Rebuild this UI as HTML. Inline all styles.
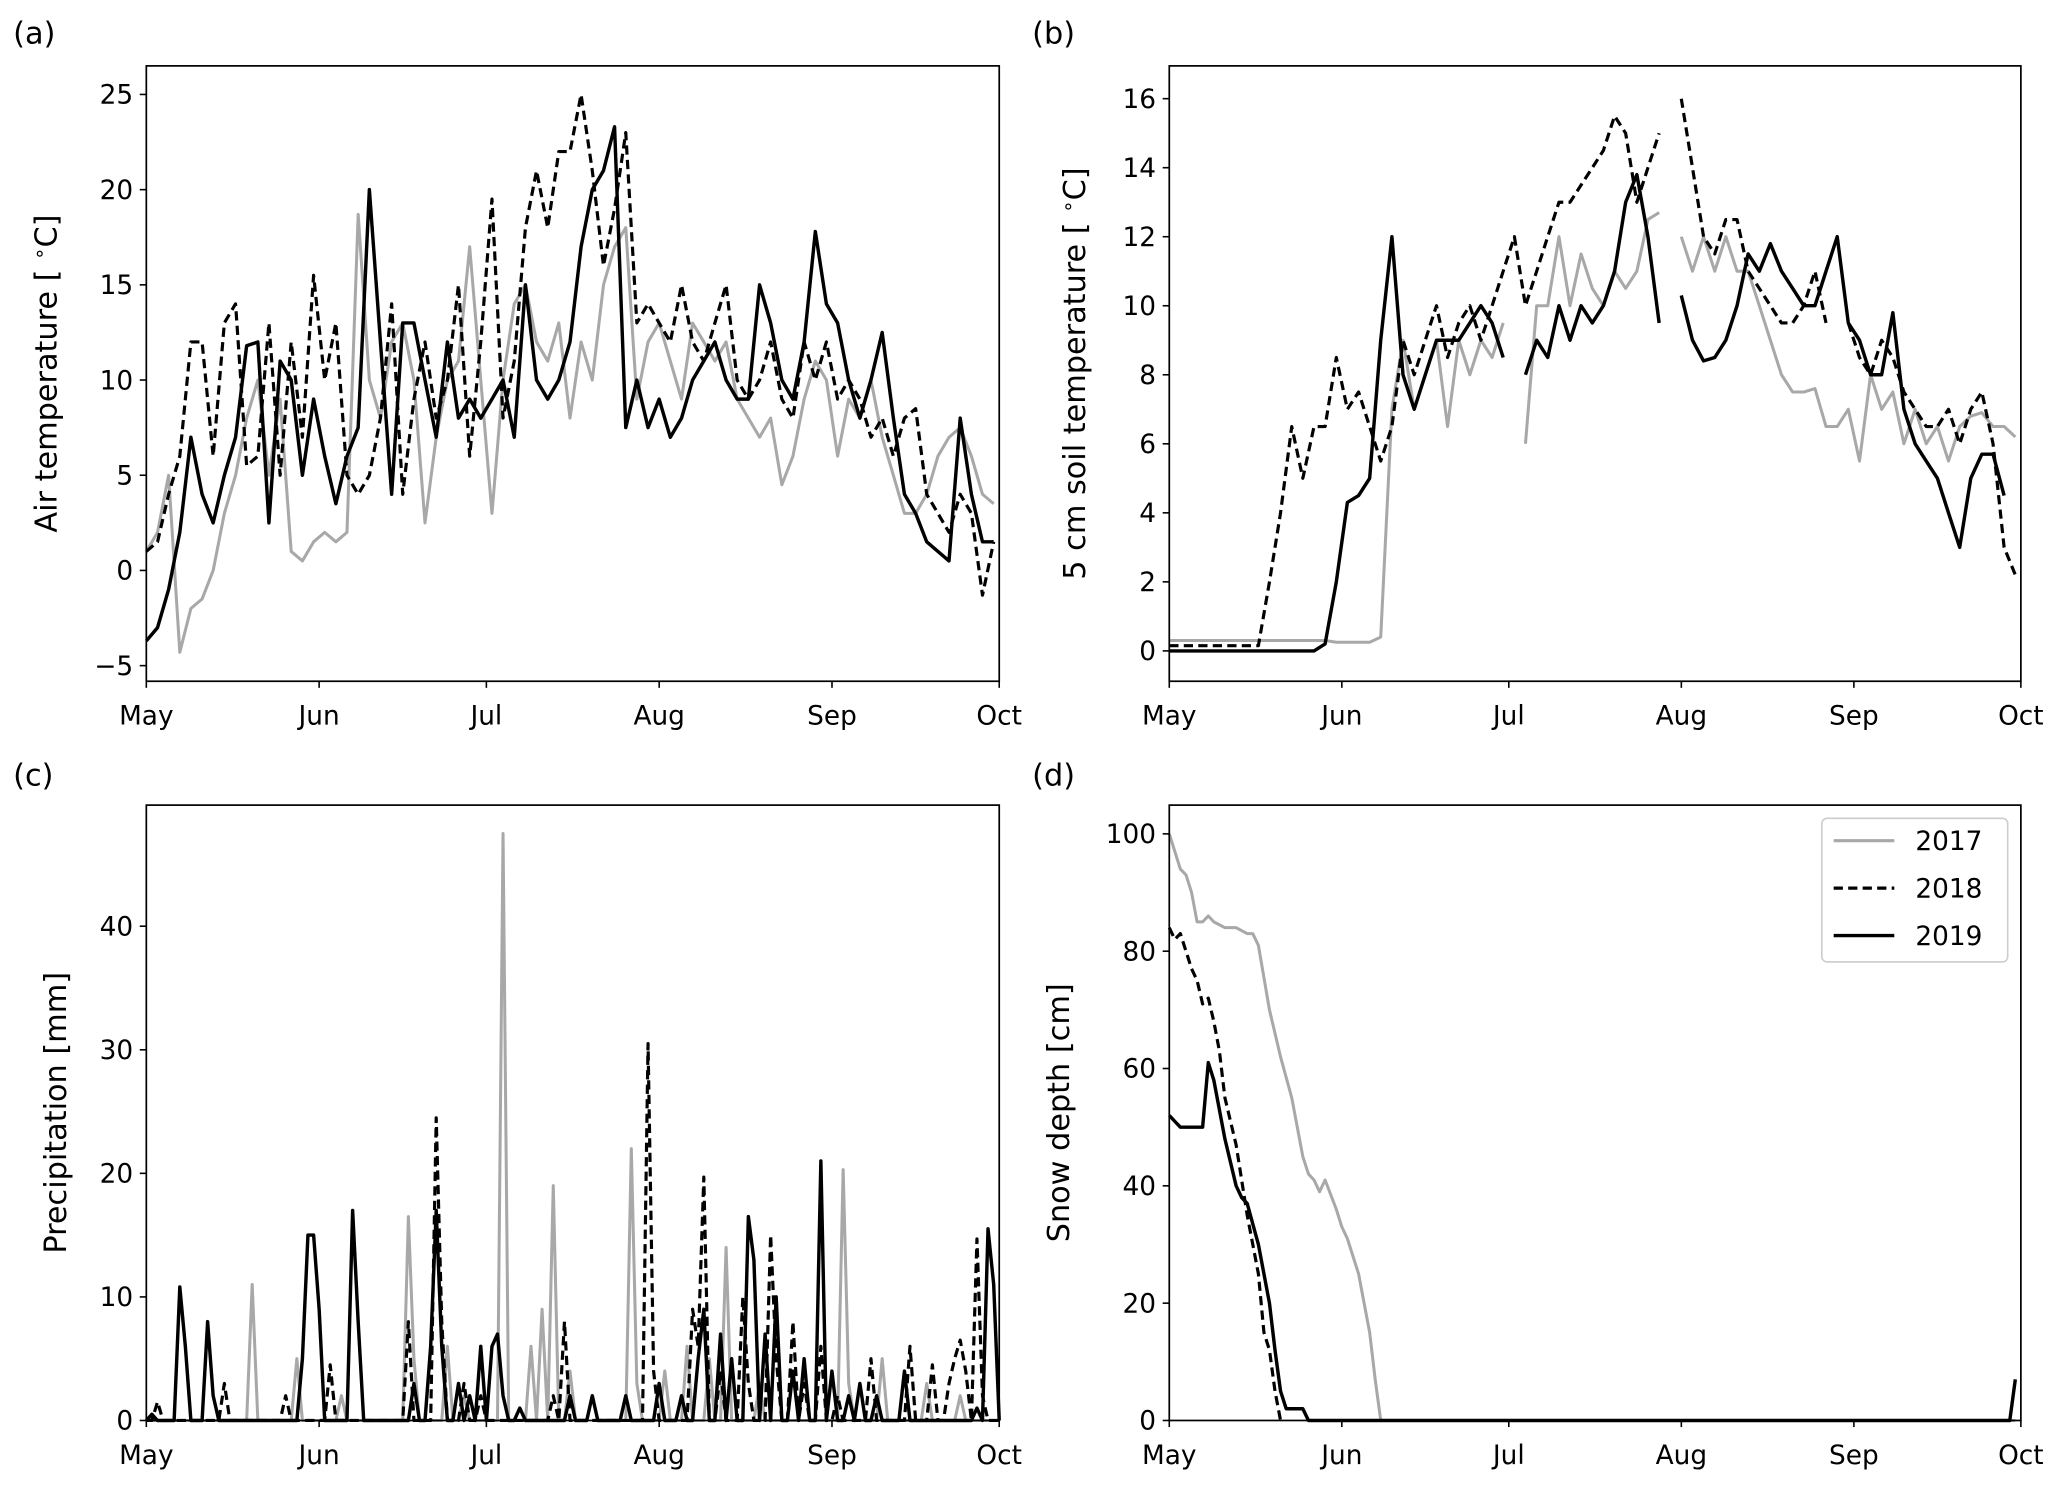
<!DOCTYPE html>
<html><head><meta charset="utf-8">
<style>
html,body{margin:0;padding:0;background:#fff;}
svg{display:block;font-family:"DejaVu Sans","Liberation Sans",sans-serif;}
</style></head>
<body>
<svg id="fig" width="2067" height="1489" viewBox="0 0 1568 1130" preserveAspectRatio="none" xmlns="http://www.w3.org/2000/svg"></svg>
<script>
// ---------- data (step-2-day series start May 1) ----------
const monthLabels = ["May","Jun","Jul","Aug","Sep","Oct"];
const monthDays = [0,31,61,92,123,153];
const years = ["2017","2018","2019"];

const air2017 = [1,2,5,-4.3,-2,-1.5,0,3,5,8,10,5,9,1,0.5,1.5,2,1.5,2,18.7,10,8,12,13,10,2.5,7,10,11,17,10,3,10,14,15,12,11,13,8,12,10,15,17,18,9,12,13,11,9,13,12,11,12,9,8,7,8,4.5,6,9,11,10,6,9,8,10,7,5,3,3,4,6,7,7.5,6,4,3.5];
const air2018 = [1,1.5,4,6,12,12,6,13,14,5.5,6,13,5,12,7,15.5,10,13,5,4,5,8,14,4,9,12,8,10,15,6,12,19.5,8,11,18,21,18,22,22,25,21,16,19,23,13,14,13,12,15,12,11,13,15,10,9,10,12,9,8,12,10,12,9,10,9,7,8,6,8,8.5,4,3,2,4,3,-1.3,1.5];
const air2019 = [-3.7,-3,-1,2,7,4,2.5,5,7,11.8,12,2.5,11,10,5,9,6,3.5,6,7.5,20,12,4,13,13,10,7,12,8,9,8,9,10,7,15,10,9,10,12,17,20,21,23.3,7.5,10,7.5,9,7,8,10,11,12,10,9,9,15,13,10,9,12,17.8,14,13,10,8,10,12.5,8,4,3,1.5,1,0.5,8,4,1.5,1.5];

const soil2017 = [0.3,0.3,0.3,0.3,0.3,0.3,0.3,0.3,0.3,0.3,0.3,0.3,0.3,0.3,0.3,0.25,0.25,0.25,0.25,0.4,7,9,7,8,9,6.5,9,8,9,8.5,9.5,null,6,10,10,12,10,11.5,10.5,10,11,10.5,11,12.5,12.7,null,12,11,12,11,12,11,11,10,9,8,7.5,7.5,7.6,6.5,6.5,7,5.5,8,7,7.5,6,7,6,6.5,5.5,6.5,6.8,6.9,6.5,6.5,6.2];
const soil2018 = [0.15,0.15,0.15,0.15,0.15,0.15,0.15,0.15,0.15,2,4,6.5,5,6.5,6.5,8.5,7,7.5,6.5,5.5,6.5,9,8,9,10,8.5,9.5,10,9,10,11,12,10,11,12,13,13,13.5,14,14.5,15.5,15,13,14,15,null,16,14,12,11.5,12.5,12.5,11,10.5,10,9.5,9.5,10,11,9.5,null,9.5,8.5,8,9,8.5,7.5,7,6.5,6.5,7,6,7,7.5,6,3,2.2];
const soil2019 = [0,0,0,0,0,0,0,0,0,0,0,0,0,0,0.2,2,4.3,4.5,5,9,12,8,7,8,9,9,9,9.5,10,9.5,8.5,null,8,9,8.5,10,9,10,9.5,10,11,13,13.8,12,9.5,null,10.3,9,8.4,8.5,9,10,11.5,11,11.8,11,10.5,10,10,11,12,9.5,9,8,8,9.8,7,6,5.5,5,4,3,5,5.7,5.7,4.5];

const precDays2017 = [19,27,35,47,48,54,57,64,69,71,73,76,80,87,88,93,97,101,104,110,125,126,132,140,146];
const precVals2017 = [11,5,2,16.5,5,6,2,47.5,6,9,19,4,2,22,3,4,6,5,14,3,20.3,3,5,3,2];
const precDays2018 = [2,14,25,33,47,52,53,57,60,73,75,90,91,98,99,100,103,107,108,112,113,116,118,121,124,130,137,141,144,145,146,147,149,150];
const precVals2018 = [1.5,3,2,4.5,8,24.5,8,3,2,2,8,30.5,4,9,6,19.7,4,10,3,15,5,8,3,6,2,5,6,4.5,3,5,6.5,4,14.7,2];
const precDays2019 = [1,6,7,11,12,28,29,30,31,37,38,48,51,52,53,56,58,60,62,63,64,67,76,80,86,92,96,99,100,103,105,108,109,111,113,116,118,121,123,126,128,131,136,149,151,152];
const precVals2019 = [0.5,10.8,6,8,2,5,15,15,9,17,8,3,6,17,6,3,2,6,6,7,2,1,2,2,2,3,2,5,9,7,5,16.5,13,7,10,4,5,21,4,2,3,2,4,1,15.5,11];

const snowDays2017 = [0,2,3,4,5,6,7,8,10,12,14,15,16,18,20,22,24,25,26,27,28,30,31,32,34,35,36,37,38,152];
const snowVals2017 = [100,94,93,90,85,85,86,85,84,84,83,83,81,70,62,55,45,42,41,39,41,36,33,31,25,20,15,7,0,0];
const snowDays2018 = [0,1,2,3,4,5,6,7,8,9,10,12,14,16,17,18,19,20];
const snowVals2018 = [84,82,83,80,77,75,71,72,68,63,55,47,35,25,15,12,5,0];
const snowDays2019 = [0,1,2,4,6,7,8,10,12,13,14,16,18,19,20,21,24,25,151,152];
const snowVals2019 = [52,51,50,50,50,61,58,48,40,38,37,30,20,12,5,2,2,0,0,7];

// ---------- drawing ----------
const NS="http://www.w3.org/2000/svg";
const svg=document.getElementById('fig');
function mk(tag,attrs,parent){const e=document.createElementNS(NS,tag);for(const k in attrs)e.setAttribute(k,attrs[k]);(parent||svg).appendChild(e);return e;}
const GRAY="#a8a8a8";
const styles=[{stroke:GRAY,w:2.3,dash:null},{stroke:"#000",w:2.4,dash:"7,4"},{stroke:"#000",w:2.6,dash:null}];

function panel(p){
  const g=mk('g',{});
  
  
  const xs=d=>p.x0+(d/153)*(p.x1-p.x0);
  const ys=v=>p.y1-(v-p.ymin)/(p.ymax-p.ymin)*(p.y1-p.y0);
  p.series.forEach((s,i)=>{
    let d="",pen=false;
    s.days.forEach((day,j)=>{
      const v=s.vals[j];
      if(v===null||v===undefined){pen=false;return;}
      d+=(pen?"L":"M")+xs(day).toFixed(1)+","+ys(v).toFixed(1);pen=true;
    });
    const st=styles[i];
    const path=mk('path',{d:d,fill:"none",stroke:st.stroke,"stroke-width":st.w,"stroke-linejoin":"round"},g);
    if(st.dash)path.setAttribute('stroke-dasharray',st.dash);
    
    
  });
  const fr=mk('rect',{x:p.x0,y:p.y0,width:p.x1-p.x0,height:p.y1-p.y0,fill:"none",stroke:"#000","stroke-width":1.3},g);
  
  
  monthDays.forEach((md,i)=>{
    const x=xs(md);
    mk('line',{x1:x,x2:x,y1:p.y1,y2:p.y1+5,stroke:"#000","stroke-width":1.2},g);
    const t=mk('text',{x:x,y:p.y1+33,"font-size":20,"text-anchor":"middle",fill:"#000"},g);
    t.textContent=monthLabels[i];
    
    
  });
  p.yticks.forEach(v=>{
    const y=ys(v);
    mk('line',{x1:p.x0-5,x2:p.x0,y1:y,y2:y,stroke:"#000","stroke-width":1.2},g);
    const t=mk('text',{x:p.x0-10,y:y+7,"font-size":20,"text-anchor":"end",fill:"#000"},g);
    t.textContent=v<0?"\u2212"+Math.abs(v):String(v);
    
    
  });
  const cy=(p.y0+p.y1)/2;
  const yl=mk('text',{x:0,y:0,"font-size":23,"text-anchor":"middle",fill:"#000",transform:`translate(${p.ylx},${cy}) rotate(-90)`},g);
  yl.innerHTML=p.ylabel;
  
  
  const pl=mk('text',{x:p.lx,y:p.ly,"font-size":23,fill:"#000"},g);
  pl.textContent=p.letter;
  
  
  return {g,xs,ys};
}
const step=a=>a.map((_,i)=>i*2);

panel({name:'panel-a-air-temperature',x0:111,x1:758,y0:50,y1:517,ymin:-5.82,ymax:26.5,yticks:[-5,0,5,10,15,20,25],
  ylabel:'Air temperature [ <tspan font-size="15" dy="-8">\u2218</tspan><tspan dy="8">C]</tspan>',ylx:43,letter:'(a)',lx:10,ly:33,
  series:[{days:step(air2017),vals:air2017},{days:step(air2018),vals:air2018},{days:step(air2019),vals:air2019}]});
panel({name:'panel-b-soil-temperature',x0:887,x1:1533,y0:50,y1:517,ymin:-0.88,ymax:16.95,yticks:[0,2,4,6,8,10,12,14,16],
  ylabel:'5 cm soil temperature [ <tspan font-size="15" dy="-8">\u2218</tspan><tspan dy="8">C]</tspan>',ylx:823,letter:'(b)',lx:783,ly:33,
  series:[{days:step(soil2017),vals:soil2017},{days:step(soil2018),vals:soil2018},{days:step(soil2019),vals:soil2019}]});

function daily(days,vals){const v=new Array(154).fill(0);days.forEach((d,i)=>v[d]=vals[i]);return v;}
const dIdx=Array.from({length:154},(_,i)=>i);
panel({name:'panel-c-precipitation',x0:111,x1:758,y0:611,y1:1078,ymin:0,ymax:49.8,yticks:[0,10,20,30,40],
  ylabel:'Precipitation [mm]',ylx:50,letter:'(c)',lx:10,ly:596,
  series:[{days:dIdx,vals:daily(precDays2017,precVals2017)},{days:dIdx,vals:daily(precDays2018,precVals2018)},{days:dIdx,vals:daily(precDays2019,precVals2019)}]});
panel({name:'panel-d-snow-depth',x0:887,x1:1533,y0:611,y1:1078,ymin:0,ymax:104.9,yticks:[0,20,40,60,80,100],
  ylabel:'Snow depth [cm]',ylx:811,letter:'(d)',lx:783,ly:596,
  series:[{days:snowDays2017,vals:snowVals2017},{days:snowDays2018,vals:snowVals2018},{days:snowDays2019,vals:snowVals2019}]});

const lg=mk('g',{});


mk('rect',{x:1382,y:621,width:141,height:109,rx:4,fill:"#fff",stroke:"#ccc","stroke-width":1.2},lg);
years.forEach((yr,i)=>{
  const y=638+i*36;
  const st=styles[i];
  const l=mk('line',{x1:1391,x2:1437,y1:y,y2:y,stroke:st.stroke,"stroke-width":st.w},lg);
  if(st.dash)l.setAttribute('stroke-dasharray',st.dash);
  
  
  const t=mk('text',{x:1453,y:y+7,"font-size":20,fill:"#000"},lg);
  t.textContent=yr;
  
  
});
</script>
</body></html>
